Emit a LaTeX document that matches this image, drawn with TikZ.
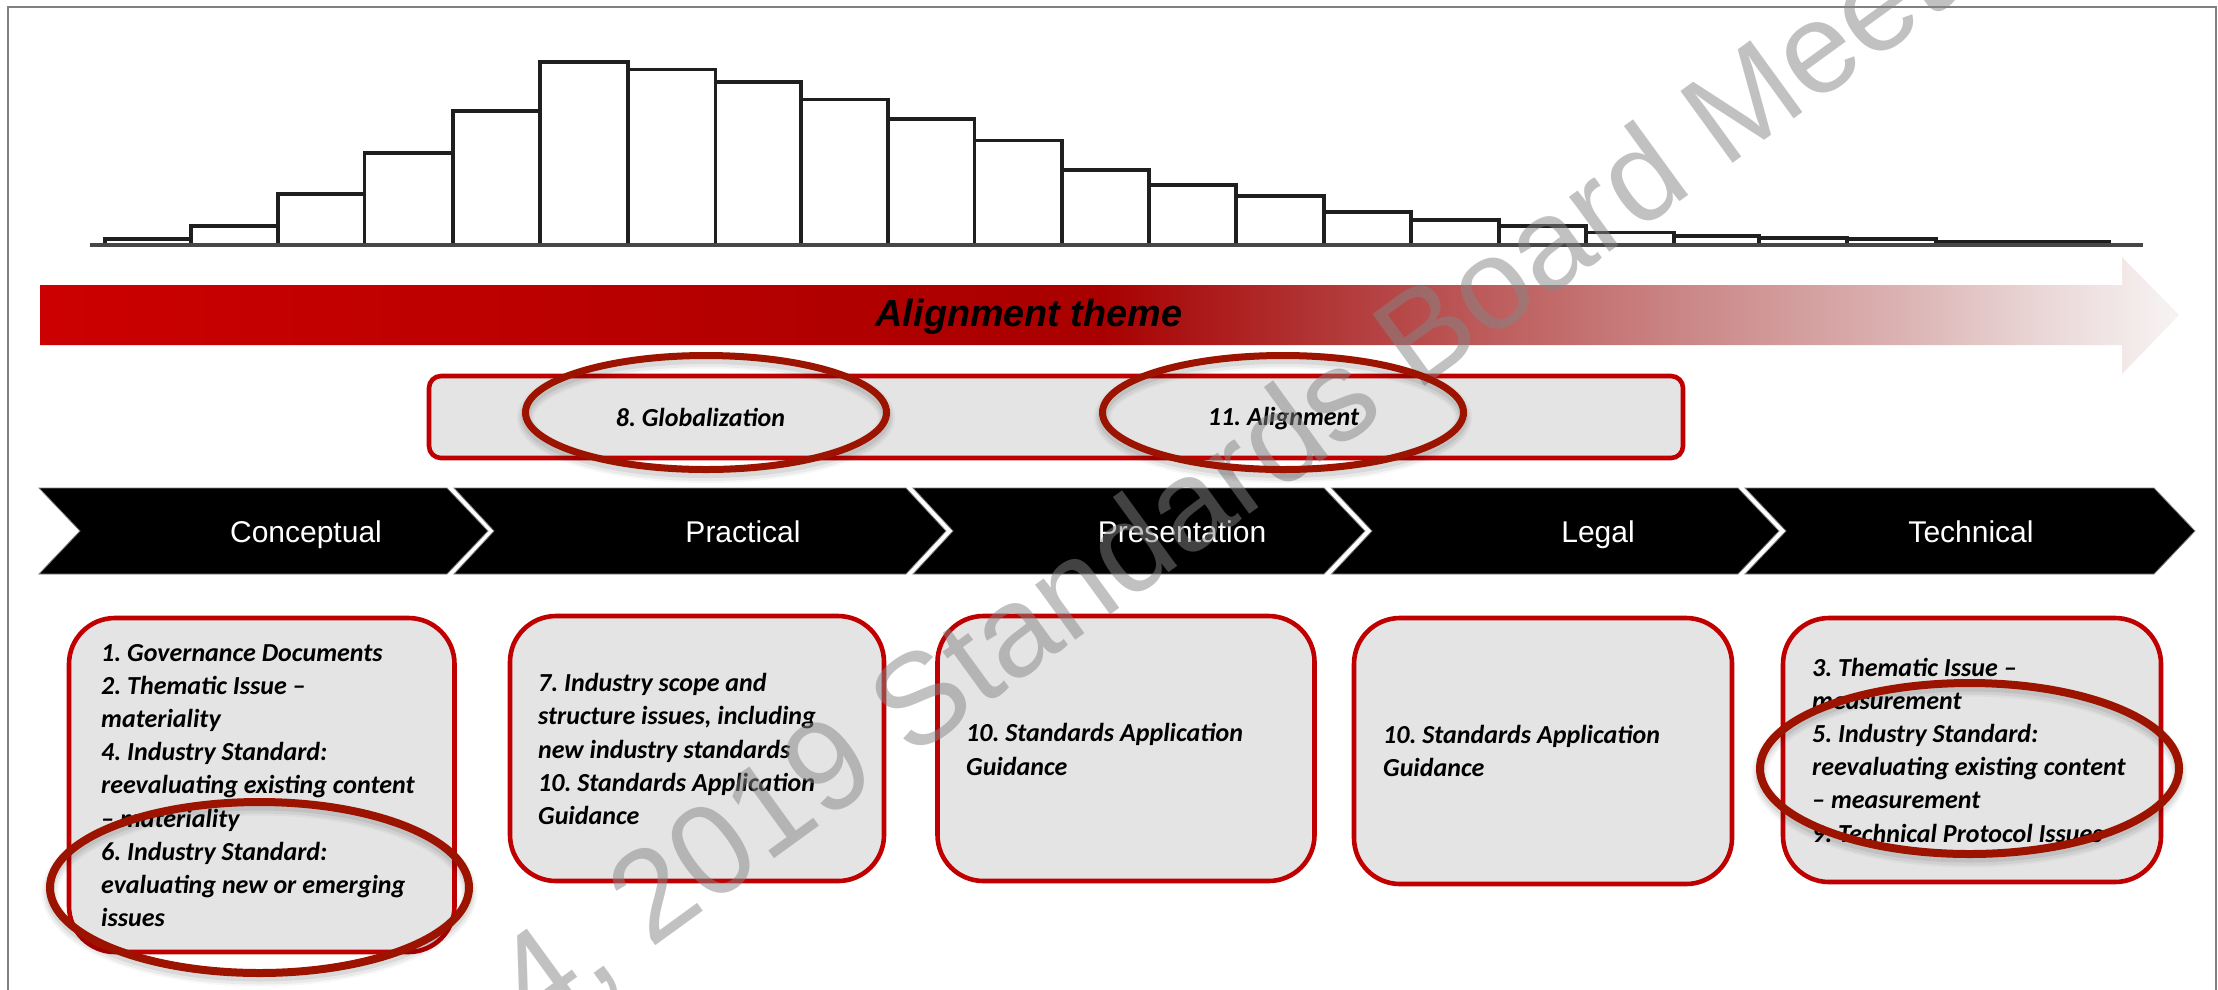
\documentclass[tikz,border=0pt]{standalone}
\usepackage{fontspec}
\setmainfont{Carlito}
\newfontfamily\arialf{Liberation Sans}
\usetikzlibrary{shapes.geometric}
\definecolor{barred}{HTML}{C00000}
\definecolor{ringred}{HTML}{9C1400}
\definecolor{panelgray}{HTML}{E4E4E4}
\definecolor{framegray}{HTML}{808080}
\definecolor{wmgray}{HTML}{858585}
\pgfdeclarehorizontalshading{alignfade}{100bp}{rgb(0bp)=(.80,0,0); rgb(25bp)=(.80,0,0); rgb(49.8bp)=(.66,0,0); rgb(54.45bp)=(.69,.19,.19); rgb(59.1bp)=(.745,.37,.37); rgb(63.8bp)=(.80,.54,.54); rgb(68.5bp)=(.86,.70,.70); rgb(72bp)=(.92,.85,.85); rgb(75bp)=(.97,.955,.955); rgb(100bp)=(.97,.955,.955)}
\tikzset{
  x=1pt,y=-1pt,
  histbar/.style={draw=black!88,line width=3.6pt,line join=miter},
  chevronshape/.style={fill=black,draw=framegray,line width=.8pt},
  chevronlabel/.style={text=white,font=\arialf\fontsize{30}{36}\selectfont,inner sep=0pt,anchor=base},
  panel/.style={draw=barred,fill=panelgray,line width=4.6pt,rounded corners=46pt},
  thinpanel/.style={draw=barred,fill=panelgray,line width=4.6pt,rounded corners=12pt},
  itemtext/.style={font=\frenchspacing\bfseries\itshape\fontsize{26}{33.2}\selectfont,text=black,align=left,anchor=west,inner sep=0pt},
  ring/.style={ellipse,draw=ringred,inner sep=0pt,
    preaction={draw=black,draw opacity=.03,line width=17pt,transform canvas={yshift=-5pt}},
    preaction={draw=black,draw opacity=.05,line width=13pt,transform canvas={yshift=-5pt}},
    preaction={draw=black,draw opacity=.07,line width=9pt,transform canvas={yshift=-4pt}}},
  smallring/.style={ring,line width=7pt,minimum width=361pt,minimum height=114pt},
  bigring/.style={ring,line width=8pt,minimum width=419pt,minimum height=171pt},
}
\begin{document}
\begin{tikzpicture}
\useasboundingbox (0,0) rectangle (2218,989);
\clip (0,0) rectangle (2218,989);
\fill[white] (0,0) rectangle (2218,989);
% frame
\draw[framegray,line width=1.8pt] (8,1010) -- (8,7) -- (2216,7) -- (2216,1010);
% histogram
\foreach \xa/\xb/\t in {105/191/239,191/278/225.7,278/364.5/194,364.5/453/152.7,453/540/111,540/628/61.7,628/715.5/69.3,715.5/801/82,801/888/99.3,888/974.5/119,974.5/1062/140.3,1062/1149/170,1149/1236/185,1236/1324/196,1324/1411/212,1411/1499/220,1499/1586/225.7,1586/1674/232.3,1674/1759/236,1759/1847/237.7,1847/1936/239,1936/2019/241.7,2019/2109/241.7}
  \draw[histbar] (\xa,245) rectangle (\xb,\t);
\draw[black!72,line width=3.4pt] (90,245) -- (2143,245);
% gradient arrow
\path[shading=alignfade] (40,285) -- (2122,285) -- (2122,257) -- (2179,315) -- (2122,374) -- (2122,345) -- (40,345) -- cycle;
\node[inner sep=0pt,text=black] (theme) at (1029,316.5) {\arialf\bfseries\itshape\fontsize{37.8}{42}\selectfont Alignment theme};
% thin panel
\draw[thinpanel] (429,376) rectangle (1683,458);
\node[itemtext,anchor=center] (glob) at (700.5,417) {8. Globalization};
\node[itemtext,anchor=center] (alig) at (1283.5,418.5) {11. Alignment};
% chevrons
\path[chevronshape] (39,488) -- (447,488) -- (488,531) -- (447,574) -- (39,574) -- (80,531) -- cycle;
\path[chevronshape] (454,488) -- (906,488) -- (946,531) -- (906,574) -- (454,574) -- (494,531) -- cycle;
\path[chevronshape] (913,488) -- (1324,488) -- (1365,531) -- (1324,574) -- (913,574) -- (953,531) -- cycle;
\path[chevronshape] (1331.5,488) -- (1738,488) -- (1779,531) -- (1738,574) -- (1331.5,574) -- (1372,531) -- cycle;
\path[chevronshape] (1745,488) -- (2154,488) -- (2195,531) -- (2154,574) -- (1745,574) -- (1786,531) -- cycle;
\node[chevronlabel] (c1) at (306,542) {Conceptual};
\node[chevronlabel] (c2) at (743,542) {Practical};
\node[chevronlabel] (c3) at (1182,542) {Presentation};
\node[chevronlabel] (c4) at (1598,542) {Legal};
\node[chevronlabel] (c5) at (1971,542) {Technical};
% panels
\draw[panel] (69,618) rectangle (454.5,952);
\draw[panel] (510,616) rectangle (884,881);
\draw[panel] (937.5,616) rectangle (1314.5,881);
\draw[panel] (1354,618) rectangle (1732,884);
\draw[panel] (1783,618) rectangle (2161,882);
\node[itemtext] (t1) at (101,785.5) {1. Governance Documents\\2. Thematic Issue --\\materiality\\4. Industry Standard:\\reevaluating existing content\\-- materiality\\6. Industry Standard:\\evaluating new or emerging\\issues};
\node[itemtext] (t2) at (538,749) {7. Industry scope and\\structure issues, including\\new industry standards\\10. Standards Application\\Guidance};
\node[itemtext] (t3) at (966,749.5) {10. Standards Application\\Guidance};
\node[itemtext] (t4) at (1383,751) {10. Standards Application\\Guidance};
\node[itemtext] (t5) at (1812,750) {3. Thematic Issue --\\measurement\\5. Industry Standard:\\reevaluating existing content\\-- measurement\\9. Technical Protocol Issues};
% watermark
\node[rotate=36,anchor=base west,inner sep=0pt,text=wmgray,text opacity=.5] (wm) at (534.7,1033.5) {\arialf\fontsize{129}{140}\selectfont 4, 2019 Standards Board Meet};
% rings
\node[smallring] (r1) at (706,412.5) {};
\node[smallring] (r2) at (1283,412.5) {};
\node[bigring] (r3) at (259.5,887.5) {};
\node[bigring] (r4) at (1969.5,768.5) {};
\end{tikzpicture}
\end{document}
